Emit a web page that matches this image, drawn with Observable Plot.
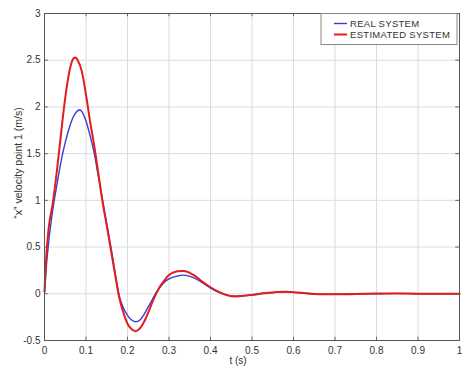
<!DOCTYPE html>
<html>
<head>
<meta charset="utf-8">
<script src="https://cdn.jsdelivr.net/npm/d3@7"></script>
<script src="https://cdn.jsdelivr.net/npm/@observablehq/plot@0.6"></script>
<style>
  html, body { margin: 0; padding: 0; background: #fff; }
  #chart svg { display: block; }
</style>
</head>
<body>
<div id="chart"></div>
<script>
const seriesNames = ["REAL SYSTEM", "ESTIMATED SYSTEM"];
const seriesColors = ["#3b3bd6", "#e01e1e"];

const tReal = [0, 0.005, 0.01, 0.02, 0.03, 0.04, 0.05, 0.06, 0.07, 0.08, 0.085, 0.09, 0.10, 0.11, 0.12, 0.13, 0.14, 0.15, 0.16, 0.17, 0.18, 0.19, 0.20, 0.21, 0.22, 0.23, 0.24, 0.25, 0.26, 0.27, 0.28, 0.29, 0.30, 0.32, 0.335, 0.36, 0.38, 0.40, 0.42, 0.44, 0.46, 0.48, 0.50, 0.53, 0.56, 0.58, 0.60, 0.63, 0.66, 0.70, 0.75, 0.80, 0.85, 0.90, 0.95, 1.0];
const vReal = [0.02, 0.32, 0.55, 0.9, 1.17, 1.42, 1.62, 1.78, 1.9, 1.96, 1.97, 1.95, 1.85, 1.69, 1.5, 1.25, 1.0, 0.75, 0.5, 0.23, -0.02, -0.15, -0.23, -0.28, -0.30, -0.28, -0.22, -0.14, -0.06, 0.02, 0.08, 0.13, 0.16, 0.19, 0.20, 0.17, 0.12, 0.06, 0.015, -0.015, -0.025, -0.02, -0.01, 0.005, 0.015, 0.02, 0.015, 0.005, -0.005, -0.005, 0, 0, 0.004, 0, 0, 0];

const tEst = [0, 0.005, 0.01, 0.02, 0.03, 0.04, 0.05, 0.06, 0.07, 0.075, 0.08, 0.09, 0.10, 0.11, 0.12, 0.13, 0.14, 0.15, 0.16, 0.17, 0.18, 0.19, 0.20, 0.21, 0.22, 0.23, 0.24, 0.25, 0.26, 0.27, 0.28, 0.29, 0.30, 0.32, 0.335, 0.36, 0.38, 0.40, 0.42, 0.44, 0.46, 0.48, 0.50, 0.53, 0.56, 0.58, 0.60, 0.63, 0.66, 0.70, 0.75, 0.80, 0.85, 0.90, 0.95, 1.0];
const vEst = [0.02, 0.45, 0.7, 0.97, 1.32, 1.72, 2.1, 2.38, 2.52, 2.53, 2.5, 2.38, 2.13, 1.84, 1.58, 1.28, 0.98, 0.73, 0.47, 0.21, -0.04, -0.2, -0.32, -0.38, -0.40, -0.37, -0.3, -0.2, -0.09, 0.01, 0.09, 0.15, 0.2, 0.24, 0.245, 0.2, 0.13, 0.07, 0.02, -0.015, -0.028, -0.022, -0.012, 0.005, 0.018, 0.022, 0.017, 0.006, -0.004, -0.006, -0.002, 0.002, 0.004, 0.001, 0, 0];

const xTicks = [0, 0.1, 0.2, 0.3, 0.4, 0.5, 0.6, 0.7, 0.8, 0.9, 1];
const yTicks = [-0.5, 0, 0.5, 1, 1.5, 2, 2.5, 3];
const xLabel = "t (s)";
const yLabel = "\u201Cx\u201D velocity point 1 (m/s)";

const real = tReal.map((t, i) => ({t, v: vReal[i], s: seriesNames[0]}));
const est = tEst.map((t, i) => ({t, v: vEst[i], s: seriesNames[1]}));

const fmt = d => String(+d.toFixed(1));

const chart = Plot.plot({
  width: 462,
  height: 374,
  marginLeft: 44,
  marginRight: 3,
  marginTop: 13,
  marginBottom: 34,
  style: {fontFamily: "Liberation Sans, Arial, sans-serif", fontSize: "10px", color: "#333", background: "#fff"},
  x: {domain: [0, 1], ticks: xTicks, tickFormat: fmt, label: null},
  y: {domain: [-0.5, 3], ticks: yTicks, tickFormat: fmt, label: null},
  marks: [
    Plot.gridX(xTicks, {stroke: "#dcdcdc", strokeOpacity: 1, strokeWidth: 1}),
    Plot.gridY(yTicks, {stroke: "#dcdcdc", strokeOpacity: 1, strokeWidth: 1}),
    Plot.axisX(xTicks, {anchor: "bottom", tickSize: 0, tickPadding: 6, tickFormat: fmt, label: null}),
    Plot.axisY(yTicks, {anchor: "left", tickSize: 0, tickPadding: 4, tickFormat: fmt, label: null}),
    Plot.ruleX(xTicks, {x: d => d, y1: -0.5, y2: -0.465, stroke: "#666"}),
    Plot.ruleX(xTicks, {x: d => d, y1: 3, y2: 2.965, stroke: "#666"}),
    Plot.ruleY(yTicks, {y: d => d, x1: 0, x2: 0.009, stroke: "#666"}),
    Plot.ruleY(yTicks, {y: d => d, x1: 1, x2: 0.991, stroke: "#666"}),
    Plot.line(real, {x: "t", y: "v", stroke: seriesColors[0], strokeWidth: 1.4, curve: "monotone-x"}),
    Plot.line(est, {x: "t", y: "v", stroke: seriesColors[1], strokeWidth: 2, curve: "monotone-x"}),
    Plot.frame({stroke: "#555"}),
    Plot.text([xLabel], {frameAnchor: "bottom", dy: 23, dx: -14, fill: "#333", fontSize: 10}),
    Plot.text([yLabel], {frameAnchor: "left", textAnchor: "middle", rotate: -90, dx: -26, dy: -14, fill: "#333", fontSize: 10.5})
  ]
});

// Legend box (top right), MATLAB style
const svg = d3.select(chart);
const lg = svg.append("g").attr("font-family", "Liberation Sans, Arial, sans-serif").attr("font-size", 9.5)
  .attr("letter-spacing", "0.3px").attr("text-anchor", "start");
lg.append("rect").attr("x", 321).attr("y", 13.5).attr("width", 136).attr("height", 31)
  .attr("fill", "#fff").attr("stroke", "#888");
seriesNames.forEach((name, i) => {
  const y = 23.5 + i * 11;
  lg.append("line").attr("x1", 334).attr("x2", 347).attr("y1", y).attr("y2", y)
    .attr("stroke", seriesColors[i]).attr("stroke-width", i ? 2 : 1.4);
  lg.append("text").attr("x", 350).attr("y", y).attr("dy", "0.35em").attr("fill", "#333").text(name);
});

document.getElementById("chart").appendChild(chart);
</script>
</body>
</html>
